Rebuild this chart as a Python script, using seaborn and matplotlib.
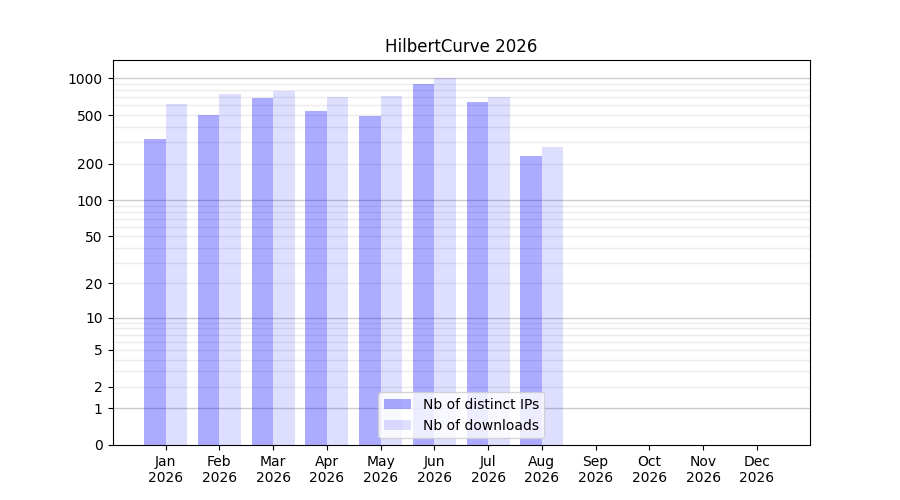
import numpy as np
import pandas as pd
import matplotlib
matplotlib.use("Agg")
import matplotlib.pyplot as plt
import seaborn as sns

# data
months = ["Jan", "Feb", "Mar", "Apr", "May", "Jun", "Jul", "Aug", "Sep", "Oct", "Nov", "Dec"]
year = "2026"
distinct_ips = [318, 500, 690, 540, 491, 899, 640, 230, 0, 0, 0, 0]
downloads = [617, 745, 788, 704, 718, 1000, 704, 274, 0, 0, 0, 0]
series_names = ["Nb of distinct IPs", "Nb of downloads"]
series_alpha = [0.33, 0.13]

ytick_values = [0, 1, 2, 5, 10, 20, 50, 100, 200, 500, 1000]
major_lines = [1, 10, 100, 1000]
minor_lines = [m * 10 ** k for k in range(3) for m in range(2, 10)]

labels = [f"{m}\n{year}" for m in months]
df = pd.DataFrame({
    "month": labels * 2,
    "value": distinct_ips + downloads,
    "series": [series_names[0]] * 12 + [series_names[1]] * 12,
})

sns.set_style("ticks", {"text.color": "black", "xtick.color": "black",
                        "ytick.color": "black", "axes.labelcolor": "black",
                        "axes.edgecolor": "black"})
plt.rcParams["font.family"] = ["DejaVu Sans"]

fig, ax = plt.subplots(figsize=(9, 5), dpi=100)

# y scale behaves like log10(1 + x)
fwd = lambda x: np.log10(1 + np.clip(x, 0, None))
inv = lambda y: 10 ** y - 1
ax.set_yscale("function", functions=(fwd, inv))

for v in minor_lines:
    ax.axhline(v, color="gray", alpha=0.15, linewidth=1, zorder=0)
for v in major_lines:
    ax.axhline(v, color="gray", alpha=0.4, linewidth=1, zorder=0)

sns.barplot(data=df, x="month", y="value", hue="series",
            palette=["blue", "blue"], saturation=1, linewidth=0,
            legend=False, ax=ax)

for cont, a in zip(ax.containers, series_alpha):
    for p in cont.patches:
        p.set_alpha(a)

ax.set_yscale("function", functions=(fwd, inv))
ax.set_yticks(ytick_values)
ax.set_yticklabels([str(v) for v in ytick_values])
top = inv(fwd(max(downloads)) * 1.05)
ax.set_ylim(0, top)
ax.set_xlim(-0.99, 11.99)

ax.set_xlabel("")
ax.set_ylabel("")
ax.set_title("HilbertCurve 2026")
ax.legend(ax.containers, series_names, loc="lower center")

for s in ax.spines.values():
    s.set_visible(True)
    s.set_color("black")

fig.savefig("out.png", dpi=100)
